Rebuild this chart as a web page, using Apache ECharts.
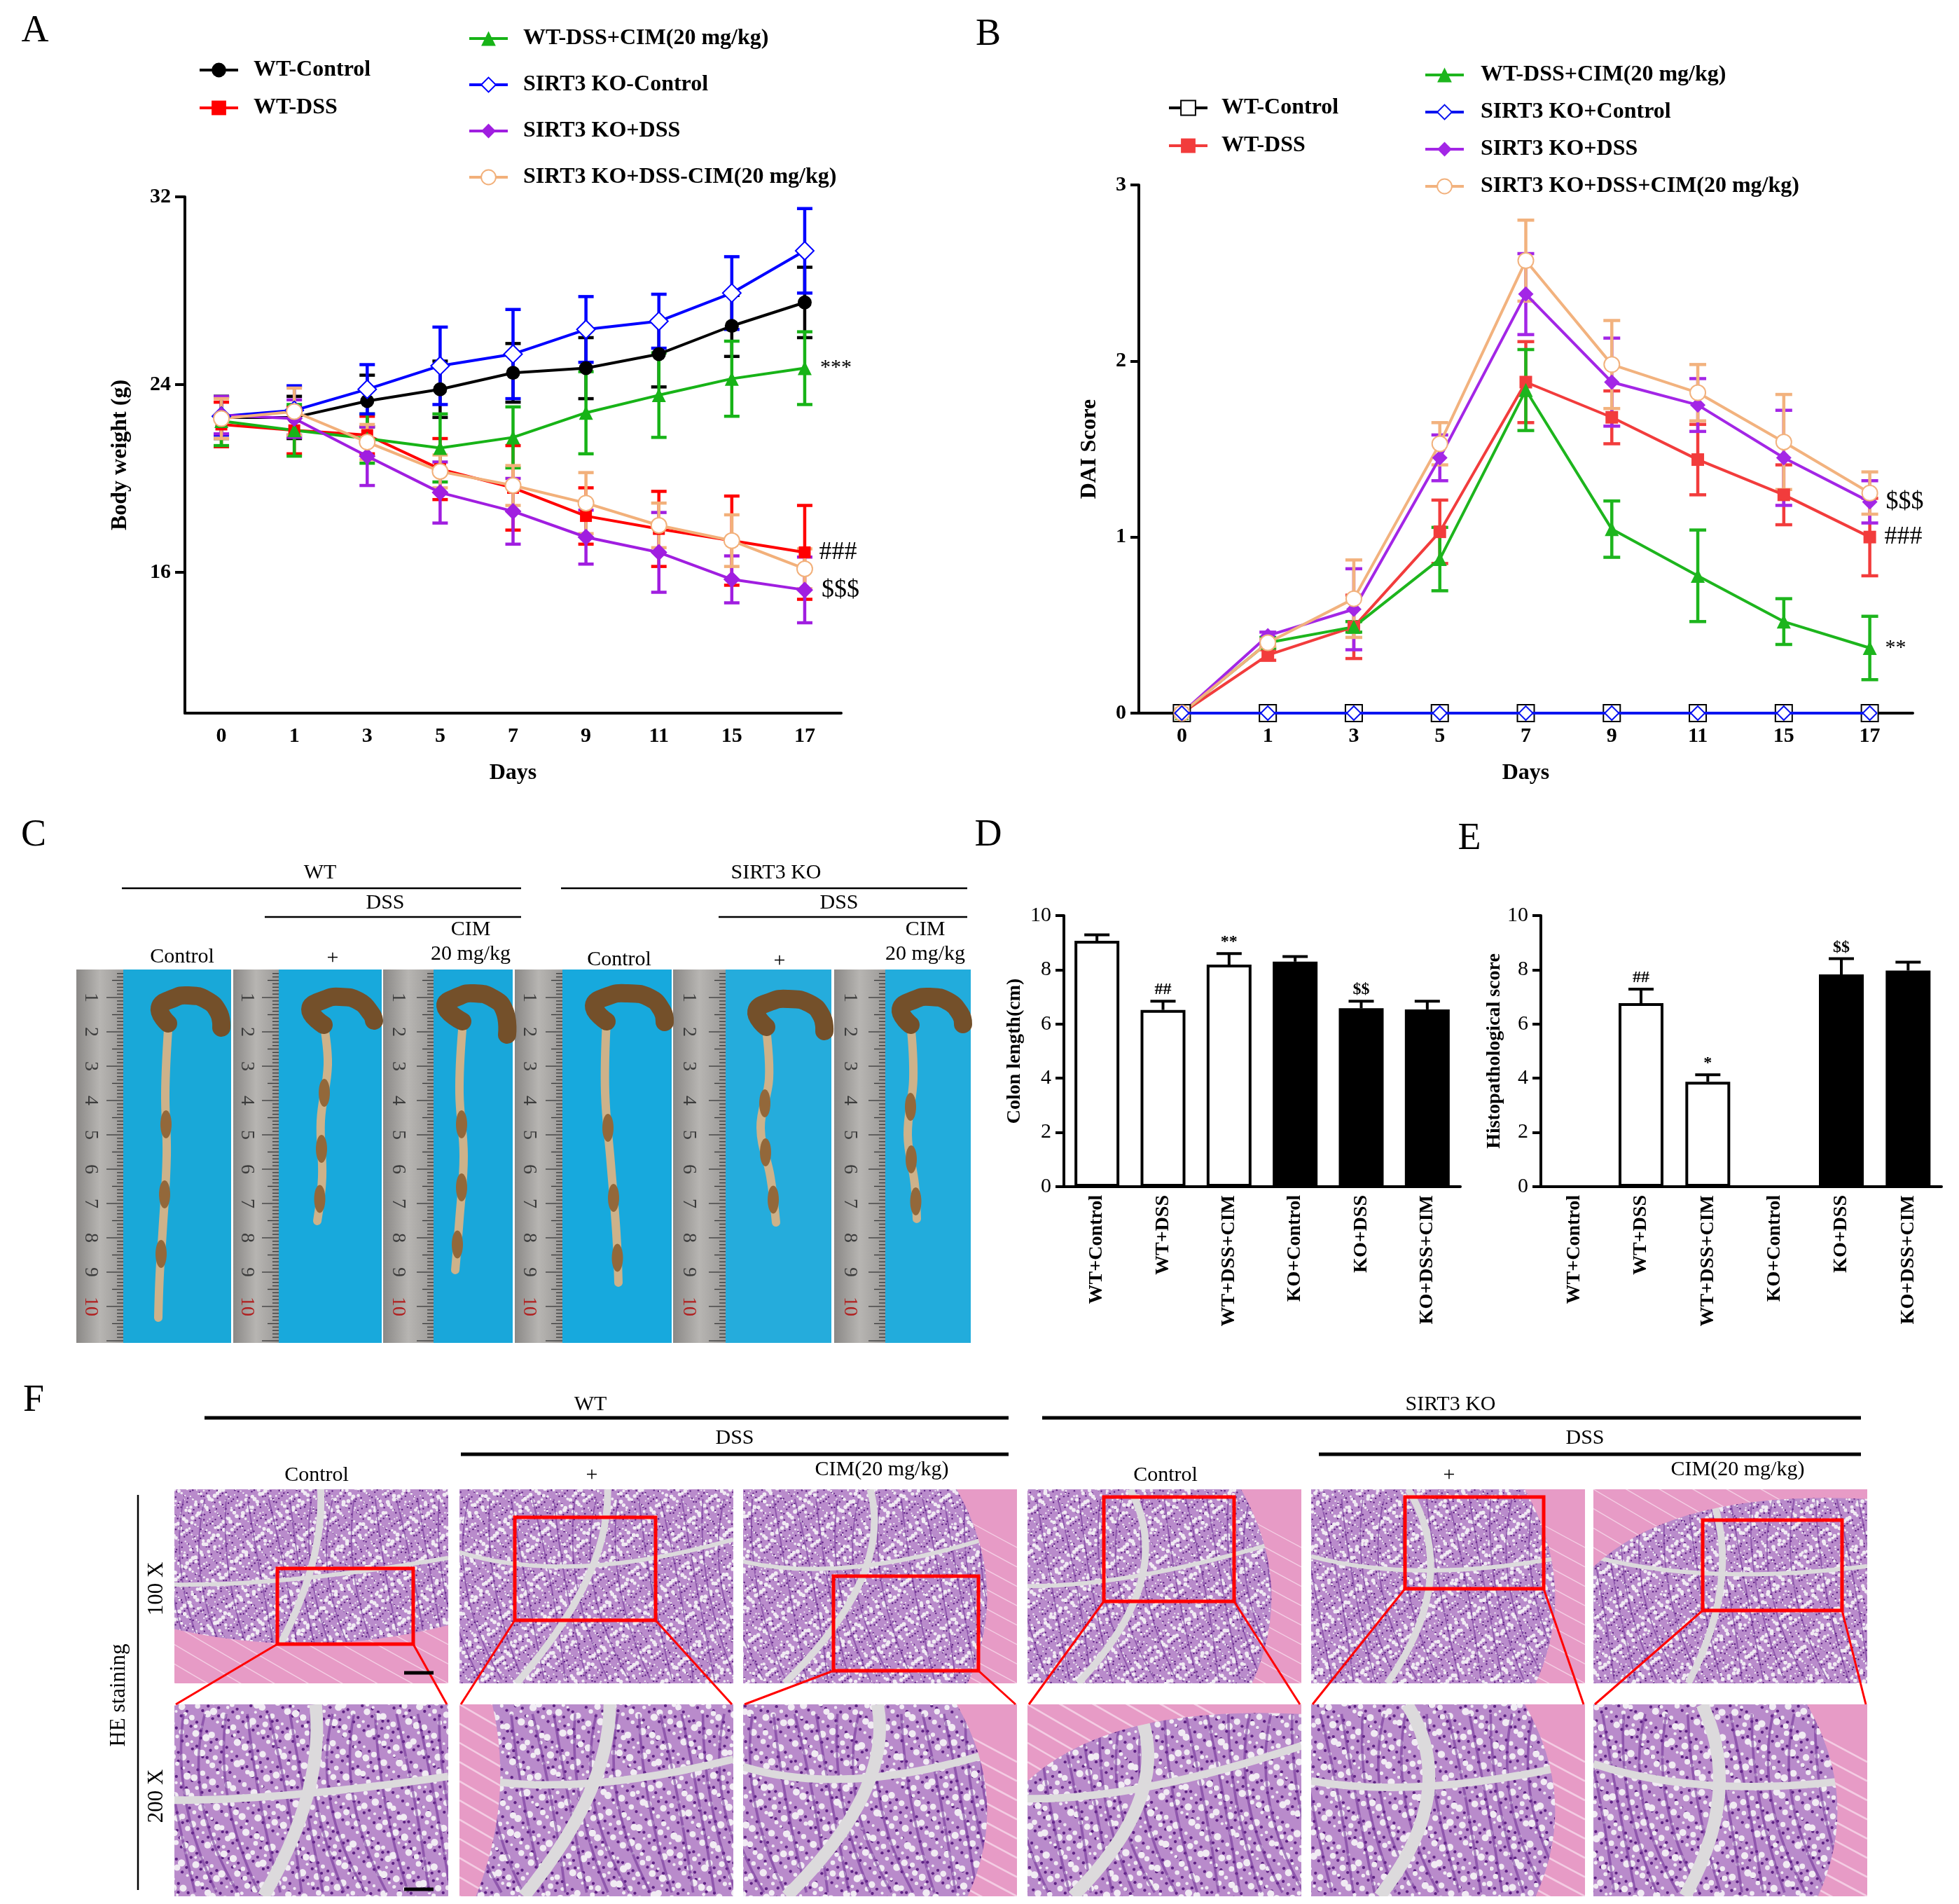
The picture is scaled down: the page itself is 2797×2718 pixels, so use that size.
<!DOCTYPE html>
<html>
<head>
<meta charset="utf-8">
<title>SIRT3 KO DSS colitis figure</title>
<script src="https://cdn.jsdelivr.net/npm/echarts@6.0.0/dist/echarts.min.js"></script>
<style>
  html, body { margin: 0; padding: 0; background: #ffffff; }
  .layer { position: absolute; left: 0; top: 0; width: 2797px; height: 2718px; }
</style>
</head>
<body>
<div id="figure" class="layer"></div>
<div id="panelA" class="layer"></div>
<div id="panelB" class="layer"></div>
<div id="panelD" class="layer"></div>
<div id="panelE" class="layer"></div>
<script>
const FONT = '"Liberation Serif", "Times New Roman", serif';

// ---- Panel A : body weight (g), mean and SD ----
const days = ['0', '1', '3', '5', '7', '9', '11', '15', '17'];
const bwTicks = [16, 24, 32];
const bwWtControl     = [22.6, 22.6, 23.3, 23.8, 24.5, 24.7, 25.3, 26.5, 27.5];
const bwWtControlSd   = [0.9, 0.9, 1.1, 1.2, 1.25, 1.3, 1.4, 1.3, 1.5];
const bwWtDss         = [22.3, 22.05, 21.85, 20.4, 19.6, 18.4, 17.85, 17.35, 16.85];
const bwWtDssSd       = [0.95, 1.0, 0.8, 1.3, 1.8, 1.2, 1.6, 1.9, 2.0];
const bwWtDssCim      = [22.45, 22.05, 21.7, 21.3, 21.75, 22.8, 23.55, 24.25, 24.7];
const bwWtDssCimSd    = [1.05, 1.1, 1.05, 1.45, 1.3, 1.75, 1.8, 1.6, 1.55];
const bwKoControl     = [22.65, 22.9, 23.8, 24.8, 25.3, 26.35, 26.7, 27.9, 29.7];
const bwKoControlSd   = [0.8, 1.05, 1.05, 1.65, 1.9, 1.4, 1.15, 1.55, 1.8];
const bwKoDss         = [22.7, 22.55, 20.95, 19.4, 18.6, 17.5, 16.85, 15.7, 15.25];
const bwKoDssSd       = [0.8, 0.8, 1.25, 1.3, 1.4, 1.15, 1.7, 1.0, 1.4];
const bwKoDssCim      = [22.55, 22.85, 21.55, 20.3, 19.7, 18.95, 18.0, 17.35, 16.15];
const bwKoDssCimSd    = [0.85, 1.0, 0.75, 0.7, 0.85, 1.3, 0.95, 1.1, 0.85];

// ---- Panel B : DAI score, mean and SD ----
const daiWtControl    = [0, 0, 0, 0, 0, 0, 0, 0, 0];
const daiWtControlSd  = [0, 0, 0, 0, 0, 0, 0, 0, 0];
const daiWtDss        = [0, 0.33, 0.49, 1.03, 1.88, 1.68, 1.44, 1.24, 1.0];
const daiWtDssSd      = [0, 0.03, 0.18, 0.18, 0.23, 0.15, 0.2, 0.17, 0.22];
const daiWtDssCim     = [0, 0.4, 0.49, 0.875, 1.835, 1.045, 0.78, 0.52, 0.37];
const daiWtDssCimSd   = [0, 0.03, 0.03, 0.18, 0.23, 0.16, 0.26, 0.13, 0.18];
const daiKoControl    = [0, 0, 0, 0, 0, 0, 0, 0, 0];
const daiKoControlSd  = [0, 0, 0, 0, 0, 0, 0, 0, 0];
const daiKoDss        = [0, 0.44, 0.59, 1.45, 2.38, 1.88, 1.75, 1.45, 1.2];
const daiKoDssSd      = [0, 0.02, 0.23, 0.13, 0.23, 0.25, 0.15, 0.27, 0.12];
const daiKoDssCim     = [0, 0.4, 0.65, 1.53, 2.57, 1.98, 1.82, 1.54, 1.25];
const daiKoDssCimSd   = [0, 0.02, 0.22, 0.12, 0.23, 0.25, 0.16, 0.27, 0.12];

// ---- Panels D / E : bars, mean and SEM ----
const barGroups      = ['WT+Control', 'WT+DSS', 'WT+DSS+CIM', 'KO+Control', 'KO+DSS', 'KO+DSS+CIM'];
const colonLength    = [9.07, 6.52, 8.19, 8.30, 6.58, 6.54];
const colonLengthSem = [0.22, 0.32, 0.41, 0.19, 0.26, 0.30];
const colonMarks     = ['', '##', '**', '', '$$', ''];
const histoScore     = [0, 6.77, 3.87, 0, 7.83, 7.97];
const histoScoreSem  = [0, 0.52, 0.26, 0, 0.58, 0.31];
const histoMarks     = ['', '##', '*', '', '$$', ''];

// ---------- helpers ----------
function errorBars(color, mean, sd, capW, lw, upperOnly, marks, markSize) {
  return {
    type: 'custom',
    silent: true,
    z: 2,
    data: mean.map((m, i) => [i, m, sd[i]]),
    encode: { x: 0, y: 1 },
    renderItem: function (params, api) {
      const i = api.value(0), m = api.value(1), e = api.value(2);
      const kids = [];
      const hi = api.coord([i, m + e]);
      if (e > 0) {
        const lo = api.coord([i, upperOnly ? m : m - e]);
        const st = { stroke: color, lineWidth: lw };
        kids.push({ type: 'line', shape: { x1: hi[0], y1: hi[1], x2: lo[0], y2: lo[1] }, style: st });
        kids.push({ type: 'line', shape: { x1: hi[0] - capW / 2, y1: hi[1], x2: hi[0] + capW / 2, y2: hi[1] }, style: st });
        if (!upperOnly) {
          kids.push({ type: 'line', shape: { x1: lo[0] - capW / 2, y1: lo[1], x2: lo[0] + capW / 2, y2: lo[1] }, style: st });
        }
      }
      if (marks && marks[params.dataIndex]) {
        kids.push({
          type: 'text', x: hi[0], y: hi[1] - 4,
          style: { text: marks[params.dataIndex], fill: '#000', align: 'center', verticalAlign: 'bottom',
                   fontFamily: FONT, fontWeight: 'bold', fontSize: markSize }
        });
      }
      return { type: 'group', children: kids };
    }
  };
}

function lineSeries(g) {
  const last = g.mean.length - 1;
  return {
    name: g.name,
    type: 'line',
    z: g.z || 3,
    symbol: g.symbol,
    symbolSize: g.size,
    lineStyle: { color: g.color, width: 4 },
    itemStyle: { color: g.color, borderColor: g.color, borderWidth: g.border || 0 },
    data: g.mean.map((v, i) => (i === last && g.mark)
      ? { value: v, label: { show: true, position: 'right', distance: 12, formatter: g.mark,
                             fontFamily: FONT, fontSize: g.markSize, color: '#000' } }
      : v)
  };
}

function legendCol(names, left, top, gap, pad) {
  return {
    data: names, orient: 'vertical', left: left, top: top, itemGap: gap,
    itemWidth: 55, itemHeight: 26, selectedMode: false,
    lineStyle: { width: 4 },
    textStyle: { fontFamily: FONT, fontWeight: 'bold', fontSize: 32, color: '#000', lineHeight: 36, padding: [0, 0, 0, pad] }
  };
}

const axisTxt = { fontFamily: FONT, fontWeight: 'bold', color: '#000' };
const blackLine = { color: '#000', width: 4 };

// ---------- Panel A ----------
const groupsA = [
  { name: 'WT-Control', color: '#000000', symbol: 'circle', size: 20, mean: bwWtControl, sd: bwWtControlSd },
  { name: 'WT-DSS', color: '#ff0000', symbol: 'rect', size: 17, mean: bwWtDss, sd: bwWtDssSd, mark: '###', markSize: 36 },
  { name: 'WT-DSS+CIM(20 mg/kg)', color: '#17b317', symbol: 'triangle', size: 20, mean: bwWtDssCim, sd: bwWtDssCimSd, mark: '***', markSize: 30 },
  { name: 'SIRT3 KO-Control', color: '#0000ff', symbol: 'emptyDiamond', size: 26, border: 4, mean: bwKoControl, sd: bwKoControlSd },
  { name: 'SIRT3 KO+DSS', color: '#a01ee0', symbol: 'diamond', size: 24, mean: bwKoDss, sd: bwKoDssSd, mark: '$$$', markSize: 36 },
  { name: 'SIRT3 KO+DSS-CIM(20 mg/kg)', color: '#f2b07a', symbol: 'emptyCircle', size: 22, border: 4, mean: bwKoDssCim, sd: bwKoDssCimSd }
];

const seriesA = [];
groupsA.forEach(g => { seriesA.push(errorBars(g.color, g.mean, g.sd, 22, 4.5, false)); seriesA.push(lineSeries(g)); });

echarts.init(document.getElementById('panelA')).setOption({
  animation: false,
  legend: [
    legendCol(['WT-Control', 'WT-DSS'], 278, 77, 18, 17),
    legendCol(['WT-DSS+CIM(20 mg/kg)', 'SIRT3 KO-Control', 'SIRT3 KO+DSS', 'SIRT3 KO+DSS-CIM(20 mg/kg)'], 663, 32, 30, 17)
  ],
  grid: { left: 264, top: 281, width: 937, height: 737 },
  xAxis: {
    type: 'category', data: days, boundaryGap: true,
    name: 'Days', nameLocation: 'middle', nameGap: 70,
    nameTextStyle: Object.assign({ fontSize: 32 }, axisTxt),
    axisLine: { lineStyle: blackLine },
    axisTick: { alignWithLabel: true, length: 14, lineStyle: blackLine },
    axisLabel: Object.assign({ fontSize: 30, margin: 18 }, axisTxt)
  },
  yAxis: {
    type: 'value', min: 10, max: 32,
    name: 'Body weight (g)', nameLocation: 'middle', nameGap: 76, nameRotate: 90,
    nameTextStyle: Object.assign({ fontSize: 32 }, axisTxt),
    splitLine: { show: false },
    axisLine: { show: true, lineStyle: blackLine },
    axisTick: { show: true, length: 14, customValues: bwTicks, lineStyle: blackLine },
    axisLabel: Object.assign({ fontSize: 30, margin: 20, customValues: bwTicks }, axisTxt)
  },
  series: seriesA
});

// ---------- Panel B ----------
const groupsB = [
  { name: 'WT-Control', color: '#000000', symbol: 'emptyRect', size: 24, border: 5, z: 3, mean: daiWtControl, sd: daiWtControlSd },
  { name: 'WT-DSS', color: '#f23c3c', symbol: 'rect', size: 18, mean: daiWtDss, sd: daiWtDssSd, mark: '###', markSize: 36 },
  { name: 'WT-DSS+CIM(20 mg/kg)', color: '#1db51d', symbol: 'triangle', size: 20, mean: daiWtDssCim, sd: daiWtDssCimSd, mark: '**', markSize: 30 },
  { name: 'SIRT3 KO+Control', color: '#0a14f0', symbol: 'emptyDiamond', size: 20, border: 3, z: 4, mean: daiKoControl, sd: daiKoControlSd },
  { name: 'SIRT3 KO+DSS', color: '#a326e6', symbol: 'diamond', size: 22, mean: daiKoDss, sd: daiKoDssSd, mark: '$$$', markSize: 36 },
  { name: 'SIRT3 KO+DSS+CIM(20 mg/kg)', color: '#f2b27e', symbol: 'emptyCircle', size: 22, border: 4, mean: daiKoDssCim, sd: daiKoDssCimSd }
];

const seriesB = [];
groupsB.forEach(g => { seriesB.push(errorBars(g.color, g.mean, g.sd, 24, 4.5, false)); seriesB.push(lineSeries(g)); });

echarts.init(document.getElementById('panelB')).setOption({
  animation: false,
  legend: [
    legendCol(['WT-Control', 'WT-DSS'], 1662, 131, 18, 15),
    legendCol(['WT-DSS+CIM(20 mg/kg)', 'SIRT3 KO+Control', 'SIRT3 KO+DSS', 'SIRT3 KO+DSS+CIM(20 mg/kg)'], 2028, 84, 17, 19)
  ],
  grid: { left: 1626, top: 264, width: 1105, height: 754 },
  xAxis: {
    type: 'category', data: days, boundaryGap: true,
    name: 'Days', nameLocation: 'middle', nameGap: 70,
    nameTextStyle: Object.assign({ fontSize: 32 }, axisTxt),
    axisLine: { lineStyle: blackLine },
    axisTick: { alignWithLabel: true, length: 14, lineStyle: blackLine },
    axisLabel: Object.assign({ fontSize: 30, margin: 18 }, axisTxt)
  },
  yAxis: {
    type: 'value', min: 0, max: 3, interval: 1,
    name: 'DAI Score', nameLocation: 'middle', nameGap: 54, nameRotate: 90,
    nameTextStyle: Object.assign({ fontSize: 32 }, axisTxt),
    splitLine: { show: false },
    axisLine: { show: true, lineStyle: blackLine },
    axisTick: { show: true, length: 12, lineStyle: blackLine },
    axisLabel: Object.assign({ fontSize: 30, margin: 18 }, axisTxt)
  },
  series: seriesB
});

// ---------- Panels D and E ----------
function barOption(gridLeft, gridWidth, yName, nameGap, values, sem, marks) {
  return {
    animation: false,
    grid: { left: gridLeft, top: 1307, width: gridWidth, height: 387 },
    xAxis: {
      type: 'category', data: barGroups, boundaryGap: true,
      axisLine: { lineStyle: blackLine },
      axisTick: { alignWithLabel: true, length: 12, lineStyle: blackLine },
      axisLabel: Object.assign({ fontSize: 28, rotate: 90, interval: 0, margin: 12 }, axisTxt)
    },
    yAxis: {
      type: 'value', min: 0, max: 10, interval: 2,
      name: yName, nameLocation: 'middle', nameGap: nameGap, nameRotate: 90,
      nameTextStyle: Object.assign({ fontSize: 28 }, axisTxt),
      splitLine: { show: false },
      axisLine: { show: true, lineStyle: blackLine },
      axisTick: { show: true, length: 12, lineStyle: blackLine },
      axisLabel: { fontFamily: FONT, fontSize: 30, color: '#000', margin: 18 }
    },
    series: [
      {
        type: 'bar', barWidth: 64, z: 3,
        data: values.map((v, i) => ({
          value: v,
          itemStyle: { color: i < 3 ? '#ffffff' : '#000000', borderColor: '#000', borderWidth: 4 }
        }))
      },
      errorBars('#000', values, sem, 36, 4, true, marks, 24)
    ]
  };
}

echarts.init(document.getElementById('panelD')).setOption(
  barOption(1519, 566, 'Colon length(cm)', 56, colonLength, colonLengthSem, colonMarks));
echarts.init(document.getElementById('panelE')).setOption(
  barOption(2200, 572, 'Histopathological score', 48, histoScore, histoScoreSem, histoMarks));

// ---------- photographs (C) and HE staining (F) ----------
const els = [];
function txt(x, y, s, size, extra) {
  els.push(Object.assign({
    type: 'text', x: x, y: y, z: 10,
    style: { text: s, fill: '#000', align: 'center', verticalAlign: 'middle', fontFamily: FONT, fontSize: size }
  }, extra || {}));
}
function seg(x1, y1, x2, y2, color, w) {
  els.push({ type: 'line', z: 9, shape: { x1: x1, y1: y1, x2: x2, y2: y2 }, style: { stroke: color, lineWidth: w } });
}

// panel letters
txt(50, 45, 'A', 54); txt(1411, 50, 'B', 54);
txt(48, 1193, 'C', 54); txt(1411, 1193, 'D', 54); txt(2098, 1198, 'E', 54);
txt(48, 2000, 'F', 54);

// C header
txt(457, 1246, 'WT', 30); seg(174, 1268, 744, 1268, '#000', 2.5);
txt(1108, 1246, 'SIRT3 KO', 30); seg(801, 1268, 1381, 1268, '#000', 2.5);
txt(550, 1289, 'DSS', 30); seg(378, 1309, 744, 1309, '#000', 2.5);
txt(1198, 1289, 'DSS', 30); seg(1026, 1309, 1381, 1309, '#000', 2.5);
txt(260, 1366, 'Control', 30); txt(475, 1368, '+', 30);
txt(672, 1327, 'CIM', 30); txt(672, 1362, '20 mg/kg', 30);
txt(884, 1370, 'Control', 30); txt(1113, 1372, '+', 30);
txt(1321, 1327, 'CIM', 30); txt(1321, 1362, '20 mg/kg', 30);

const photoTop = 1384, photoBottom = 1917;
const photoPanels = [
  { ruler: [109, 176], blue: [176, 330], col: '#19a8d8', head: [220, 318, 1419, 1467], tube: [[240, 1470], [236, 1560], [238, 1650], [232, 1760], [228, 1820], [226, 1881]] },
  { ruler: [333, 398], blue: [398, 545], col: '#18a9dc', head: [435, 536, 1421, 1457], tube: [[462, 1460], [468, 1520], [458, 1600], [460, 1680], [453, 1743]] },
  { ruler: [547, 619], blue: [619, 732], col: '#19a7da', head: [628, 726, 1416, 1477], tube: [[660, 1470], [656, 1560], [662, 1650], [656, 1740], [650, 1813]] },
  { ruler: [735, 803], blue: [803, 959], col: '#17a9dd', head: [840, 951, 1416, 1459], tube: [[866, 1458], [864, 1560], [872, 1660], [880, 1760], [883, 1831]] },
  { ruler: [961, 1036], blue: [1036, 1187], col: '#25acdc', head: [1072, 1179, 1424, 1472], tube: [[1094, 1470], [1098, 1540], [1086, 1610], [1100, 1680], [1108, 1745]] },
  { ruler: [1191, 1264], blue: [1264, 1386], col: '#22acdc', head: [1278, 1377, 1421, 1462], tube: [[1300, 1460], [1304, 1540], [1296, 1620], [1306, 1690], [1309, 1740]] }
];

photoPanels.forEach(p => {
  const rw = p.ruler[1] - p.ruler[0];
  els.push({ type: 'rect', z: 1, shape: { x: p.ruler[0], y: photoTop, width: rw, height: photoBottom - photoTop },
    style: { fill: new echarts.graphic.LinearGradient(0, 0, 1, 0, [
      { offset: 0, color: '#8a8886' }, { offset: 0.5, color: '#b7b5b2' }, { offset: 1, color: '#9c9a98' }]) } });
  els.push({ type: 'rect', z: 1, shape: { x: p.blue[0], y: photoTop, width: p.blue[1] - p.blue[0], height: photoBottom - photoTop },
    style: { fill: p.col } });
  // ruler graduations
  for (let k = 0; k <= 110; k++) {
    const y = 1375 + k * 4.9;
    if (y < photoTop + 2 || y > photoBottom - 2) continue;
    const len = k % 10 === 0 ? 24 : (k % 5 === 0 ? 16 : 9);
    els.push({ type: 'line', z: 2, shape: { x1: p.ruler[1] - len, y1: y, x2: p.ruler[1], y2: y },
      style: { stroke: '#3a3a3a', lineWidth: 1.3 } });
  }
  for (let n = 1; n <= 10; n++) {
    els.push({ type: 'text', z: 2, x: p.ruler[0] + rw * 0.3, y: 1375 + n * 49, rotation: -Math.PI / 2,
      style: { text: String(n), fill: n === 10 ? '#b02020' : '#3c3c3c', align: 'center', verticalAlign: 'middle',
               fontFamily: FONT, fontSize: 28 } });
  }
  // colon
  const h = p.head;
  const mid = (h[0] + h[1]) / 2;
  els.push({ type: 'polyline', z: 3, shape: { points: p.tube, smooth: 0.4 },
    style: { stroke: '#cdb28a', lineWidth: 12, lineCap: 'round', fill: null } });
  [1, 2, 3].forEach(j => {
    const a = p.tube[j], b = p.tube[j + 1] || a;
    els.push({ type: 'ellipse', z: 4, shape: { cx: (a[0] + b[0]) / 2, cy: (a[1] + b[1]) / 2, rx: 8, ry: 20 },
      style: { fill: '#93683a' } });
  });
  els.push({ type: 'polyline', z: 5, shape: {
      points: [[p.tube[0][0], h[2] + 42], [h[0] + 8, h[2] + 20], [h[0] + 28, h[2] + 6], [mid, h[2] + 2],
               [h[1] - 24, h[2] + 8], [h[1] - 6, h[2] + 26], [h[1] - 2, h[3]]], smooth: 0.5 },
    style: { stroke: '#74502a', lineWidth: 26, lineCap: 'round', lineJoin: 'round', fill: null } });
});

// F header
txt(843, 2005, 'WT', 30); seg(292, 2024, 1440, 2024, '#000', 5);
txt(2071, 2005, 'SIRT3 KO', 30); seg(1488, 2024, 2657, 2024, '#000', 5);
txt(1049, 2053, 'DSS', 30); seg(658, 2076, 1440, 2076, '#000', 5);
txt(2263, 2053, 'DSS', 30); seg(1883, 2076, 2657, 2076, '#000', 5);
const heCols = [249, 656, 1061, 1467, 1872, 2275];
const heLabels = ['Control', '+', 'CIM(20 mg/kg)', 'Control', '+', 'CIM(20 mg/kg)'];
const heLabelX = [452, 845, 1259, 1664, 2069, 2481];
heLabels.forEach((s, i) => txt(heLabelX[i], i === 2 || i === 5 ? 2098 : 2106, s, 30));
seg(197, 2134, 197, 2698, '#000', 2.5);
txt(170, 2420, 'HE staining', 31, { rotation: Math.PI / 2 });
txt(224, 2268, '100 X', 31, { rotation: Math.PI / 2 });
txt(224, 2564, '200 X', 31, { rotation: Math.PI / 2 });

// H&E-like texture for the micrograph placeholders
function tissue(w, h, k, side, seed) {
  const c = document.createElement('canvas');
  c.width = w; c.height = h;
  const g = c.getContext('2d');
  g.fillStyle = '#d8d6d9'; g.fillRect(0, 0, w, h);
  g.fillStyle = '#b98bcb'; g.fillRect(0, 0, w, h);
  const step = 8 * k;
  let n = 0;
  for (let y = 0; y < h + step; y += step) {
    for (let x = 0; x < w + step; x += step) {
      n++;
      const jx = Math.sin(n * 2.3 + seed) * 2.5 * k, jy = Math.cos(n * 1.7 + seed * 3) * 2.5 * k;
      const r = (2.0 + 0.9 * Math.sin(n * 0.77 + seed)) * k;
      g.beginPath();
      g.arc(x + jx, y + jy, r, 0, Math.PI * 2);
      g.fillStyle = '#f1ebf3'; g.fill();
      g.beginPath();
      g.arc(x + jx + step * 0.5, y + jy + step * 0.45, 1.2 * k, 0, Math.PI * 2);
      g.fillStyle = '#5e2284'; g.fill();
    }
  }
  // darker crypt walls
  g.strokeStyle = 'rgba(110,45,150,0.55)'; g.lineWidth = 2 * k;
  for (let s = 0; s < 18; s++) {
    const x0 = (s / 18) * w * 1.4 - w * 0.2;
    g.beginPath();
    g.moveTo(x0, h * 0.05);
    g.quadraticCurveTo(x0 + w * 0.08 * Math.sin(seed + s), h * 0.5, x0 + w * 0.12, h * 0.98);
    g.stroke();
  }
  // grey lumen gaps
  g.strokeStyle = '#dcdadc';
  g.lineWidth = 10 * k;
  g.beginPath();
  g.moveTo(w * (0.45 + 0.1 * Math.sin(seed)), 0);
  g.quadraticCurveTo(w * 0.55, h * 0.45, w * (0.25 + 0.1 * Math.cos(seed)), h);
  g.stroke();
  g.lineWidth = 6 * k;
  g.beginPath();
  g.moveTo(0, h * (0.4 + 0.1 * Math.sin(seed * 2)));
  g.quadraticCurveTo(w * 0.4, h * 0.5, w, h * (0.3 + 0.1 * Math.cos(seed)));
  g.stroke();
  if (side) {
    g.beginPath();
    if (side === 'bottom') {
      g.moveTo(0, h * 0.72); g.quadraticCurveTo(w * 0.5, h * 0.88, w, h * 0.7); g.lineTo(w, h); g.lineTo(0, h);
    } else if (side === 'right') {
      g.moveTo(w * 0.78, 0); g.quadraticCurveTo(w * 0.98, h * 0.5, w * 0.82, h); g.lineTo(w, h); g.lineTo(w, 0);
    } else if (side === 'left') {
      g.moveTo(0, 0); g.lineTo(w * 0.12, 0); g.quadraticCurveTo(w * 0.2, h * 0.5, w * 0.06, h); g.lineTo(0, h);
    } else {
      g.moveTo(0, h * 0.4); g.quadraticCurveTo(w * 0.3, 0, w, h * 0.05); g.lineTo(w, 0); g.lineTo(0, 0);
    }
    g.closePath();
    g.fillStyle = '#e79bc6'; g.fill();
    g.save(); g.clip();
    g.strokeStyle = 'rgba(250,225,240,0.7)'; g.lineWidth = 1.5 * k;
    for (let s = 0; s < 20; s++) {
      g.beginPath();
      g.moveTo(0, s * h / 10 - h * 0.5); g.quadraticCurveTo(w * 0.6, s * h / 10, w, s * h / 10 + h * 0.3);
      g.stroke();
    }
    g.restore();
  }
  return c;
}

const heSides1 = ['bottom', null, 'right', 'right', 'right', 'top'];
const heSides2 = [null, 'left', 'right', 'top', 'right', 'right'];
heCols.forEach((x, i) => {
  els.push({ type: 'image', z: 1, style: { image: tissue(391, 277, 1, heSides1[i], i + 1), x: x, y: 2126, width: 391, height: 277 } });
  els.push({ type: 'image', z: 1, style: { image: tissue(391, 274, 1.8, heSides2[i], i + 7), x: x, y: 2433, width: 391, height: 274 } });
});

const zoomBoxes = [
  [396, 590, 2239, 2347], [735, 936, 2166, 2313], [1190, 1397, 2250, 2385],
  [1576, 1762, 2137, 2286], [2006, 2204, 2137, 2268], [2431, 2630, 2170, 2299]
];
zoomBoxes.forEach((b, i) => {
  els.push({ type: 'rect', z: 6, shape: { x: b[0], y: b[2], width: b[1] - b[0], height: b[3] - b[2] },
    style: { fill: null, stroke: '#ff0000', lineWidth: 5 } });
  seg(b[0], b[3], heCols[i] + 2, 2433, '#ff0000', 3);
  seg(b[1], b[3], heCols[i] + 389, 2433, '#ff0000', 3);
});
seg(577, 2388, 619, 2388, '#000', 5);
seg(577, 2697, 619, 2697, '#000', 5);

echarts.init(document.getElementById('figure')).setOption({
  animation: false,
  graphic: { elements: els }
});
</script>
</body>
</html>
